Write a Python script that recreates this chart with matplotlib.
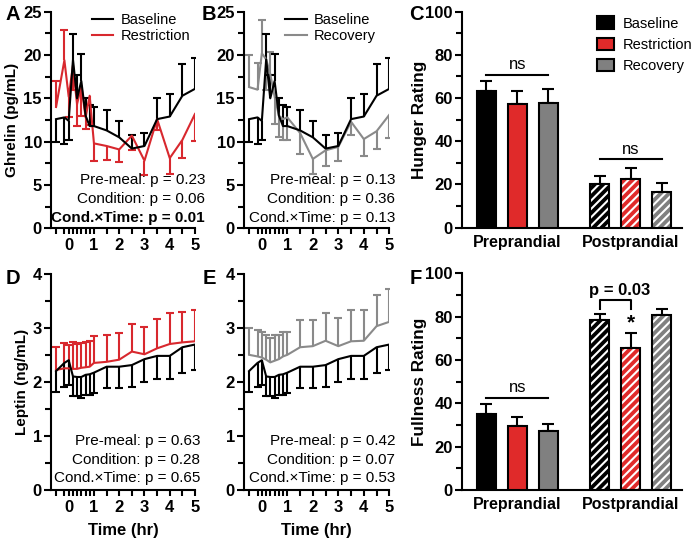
import matplotlib
matplotlib.use('Agg')
import matplotlib.pyplot as plt
import numpy as np
from matplotlib.patches import Patch
from matplotlib.lines import Line2D

plt.rcParams['font.family'] = ['Liberation Sans', 'DejaVu Sans']
plt.rcParams['hatch.linewidth'] = 1.5

# ---------------- data ----------------
time_hr = [-0.5, -0.17, 0, 0.17, 0.33, 0.5, 0.67, 0.83, 1, 1.5, 2, 2.5, 3, 3.5, 4, 4.5, 5]
major_hr = [0, 1, 2, 3, 4, 5]

ghrelin_baseline = [12.6, 12.8, 12.4, 19.5, 15.0, 17.0, 13.0, 11.8, 11.8, 11.3, 10.5, 9.2, 9.5, 12.6, 12.9, 15.3, 16.1]
ghrelin_baseline_bar_end = [10.0, 9.7, 10.2, 22.4, 17.7, 20.1, 15.0, 14.2, 14.0, 13.7, 12.4, 10.8, 11.0, 15.0, 15.5, 19.0, 19.7]
ghrelin_restriction = [14.0, 19.4, 15.2, 18.8, 14.3, 16.5, 12.8, 15.3, 9.8, 9.5, 9.1, 10.7, 7.8, 12.6, 8.1, 10.2, 13.2]
ghrelin_restriction_bar_end = [17.0, 22.9, 12.9, 16.0, 11.8, 13.0, 11.5, 11.9, 7.8, 7.9, 7.6, 9.0, 6.2, 11.3, 6.3, 8.1, 10.1]
ghrelin_recovery = [16.3, 16.0, 20.2, 19.5, 17.8, 15.2, 13.0, 12.6, 12.8, 11.0, 8.0, 9.0, 9.4, 12.3, 10.3, 11.2, 13.1]
ghrelin_recovery_bar_end = [20.0, 19.1, 24.0, 16.0, 20.4, 12.0, 10.5, 10.2, 10.2, 8.6, 6.3, 7.2, 7.8, 10.8, 8.3, 9.2, 10.4]

leptin_baseline = [2.20, 2.35, 2.40, 2.10, 2.09, 2.09, 2.13, 2.14, 2.17, 2.28, 2.28, 2.31, 2.42, 2.48, 2.48, 2.64, 2.69]
leptin_baseline_bar_end = [1.82, 1.91, 1.94, 1.73, 1.73, 1.71, 1.76, 1.76, 1.80, 1.88, 1.88, 1.91, 2.00, 2.05, 2.05, 2.17, 2.21]
leptin_restriction = [2.22, 2.25, 2.25, 2.24, 2.24, 2.26, 2.27, 2.28, 2.35, 2.37, 2.41, 2.56, 2.51, 2.62, 2.70, 2.73, 2.75]
leptin_restriction_bar_end = [2.64, 2.72, 2.69, 2.73, 2.70, 2.72, 2.73, 2.76, 2.84, 2.86, 2.91, 3.07, 3.01, 3.16, 3.28, 3.30, 3.33]
leptin_recovery = [2.50, 2.47, 2.45, 2.41, 2.36, 2.39, 2.42, 2.47, 2.50, 2.64, 2.66, 2.76, 2.66, 2.75, 2.76, 3.03, 3.11]
leptin_recovery_bar_end = [2.99, 2.96, 2.92, 2.87, 2.81, 2.86, 2.87, 2.93, 2.93, 3.14, 3.14, 3.28, 3.19, 3.32, 3.32, 3.60, 3.71]

conditions = ['Baseline', 'Restriction', 'Recovery']
meal_groups = ['Preprandial', 'Postprandial']
hunger_pre = [63.4, 57.3, 57.9]
hunger_pre_sem = [4.5, 6.1, 6.1]
hunger_post = [20.2, 22.4, 16.7]
hunger_post_sem = [3.9, 5.1, 3.8]
fullness_pre = [35.1, 29.4, 27.1]
fullness_pre_sem = [4.6, 4.4, 3.4]
fullness_post = [78.5, 65.5, 80.8]
fullness_post_sem = [2.7, 6.8, 2.7]

pvals_A = ['Pre-meal: p = 0.23', 'Condition: p = 0.06', 'Cond.\u00d7Time: p = 0.01']
pvals_B = ['Pre-meal: p = 0.13', 'Condition: p = 0.36', 'Cond.\u00d7Time: p = 0.13']
pvals_D = ['Pre-meal: p = 0.63', 'Condition: p = 0.28', 'Cond.\u00d7Time: p = 0.65']
pvals_E = ['Pre-meal: p = 0.42', 'Condition: p = 0.07', 'Cond.\u00d7Time: p = 0.53']

# ---------------- style ----------------
BLACK = '#000000'
RED_LINE = '#D8282E'
GRAY_LINE = '#8A8A8A'
RED_BAR = '#E02A2A'
GRAY_BAR = '#808080'

W, H = 697, 543
fig = plt.figure(figsize=(W / 100, H / 100), dpi=100)


def rect(l, t, r, b):
    return [l / W, 1 - b / H, (r - l) / W, (b - t) / H]


def style_axes(ax):
    for s in ['top', 'right']:
        ax.spines[s].set_visible(False)
    for s in ['left', 'bottom']:
        ax.spines[s].set_linewidth(1.5)
    ax.tick_params(which='both', width=1.5, direction='out')
    ax.tick_params(which='major', length=5, labelsize=12, pad=1.5)
    ax.tick_params(which='minor', length=4)
    for lab in ax.get_xticklabels() + ax.get_yticklabels():
        lab.set_fontweight('bold')


def line_panel(ax, series, ylim, ymajor, yminor, ylabel=None, xlabel=False):
    t = np.array(time_hr)
    for y, end, color in series:
        ax.vlines(t, y, end, colors=color, lw=1.5, zorder=2)
        ax.plot(t, end, ls='none', marker='_', ms=5.5, mew=1.5, color=color, zorder=2)
        ax.plot(t, y, color=color, lw=1.5, zorder=3)
    ax.set_xlim(-0.7, 5.0)
    ax.set_ylim(*ylim)
    ax.set_xticks(major_hr)
    ax.set_xticks([v for v in time_hr if v not in major_hr], minor=True)
    ax.set_yticks(ymajor)
    ax.set_yticks(yminor, minor=True)
    style_axes(ax)
    ax.tick_params(axis='x', which='both', length=4)
    ax.tick_params(axis='x', which='major', pad=3)
    if ylabel:
        ax.set_ylabel(ylabel, fontsize=11, fontweight='bold', labelpad=3)
    if xlabel:
        ax.set_xlabel('Time (hr)', fontsize=12, fontweight='bold', labelpad=6)


def pval_text(ax, lines, x_right, ys, bold_last=False):
    for i, (s, y) in enumerate(zip(lines, ys)):
        ax.text(x_right, y, s, transform=ax.transAxes, ha='right', va='center',
                fontsize=11, fontweight='bold' if (bold_last and i == 2) else 'normal')


def line_legend(ax, color2, label2):
    ax.legend([Line2D([], [], color=BLACK, lw=1.5), Line2D([], [], color=color2, lw=1.5)],
              ['Baseline', label2], loc='upper left', bbox_to_anchor=(0.285, 0.995),
              frameon=False, fontsize=10.5, handlelength=1.45, handletextpad=0.5,
              labelspacing=0.15, borderpad=0, borderaxespad=0)


# ---- Panel A ----
axA = fig.add_axes(rect(51, 11.7, 195, 228.3))
line_panel(axA, [(ghrelin_restriction, ghrelin_restriction_bar_end, RED_LINE),
                 (ghrelin_baseline, ghrelin_baseline_bar_end, BLACK)],
           (0, 25), [0, 5, 10, 15, 20, 25], np.arange(2.5, 25, 5), ylabel='Ghrelin (pg/mL)')
pval_text(axA, pvals_A, 1.07, [0.223, 0.135, 0.048], bold_last=True)
line_legend(axA, RED_LINE, 'Restriction')

# ---- Panel B ----
axB = fig.add_axes(rect(244, 11.7, 389.3, 228.3))
line_panel(axB, [(ghrelin_recovery, ghrelin_recovery_bar_end, GRAY_LINE),
                 (ghrelin_baseline, ghrelin_baseline_bar_end, BLACK)],
           (0, 25), [0, 5, 10, 15, 20, 25], np.arange(2.5, 25, 5))
pval_text(axB, pvals_B, 1.04, [0.223, 0.135, 0.048])
line_legend(axB, GRAY_LINE, 'Recovery')

# ---- Panel D ----
axD = fig.add_axes(rect(51, 273.7, 195, 490))
line_panel(axD, [(leptin_restriction, leptin_restriction_bar_end, RED_LINE),
                 (leptin_baseline, leptin_baseline_bar_end, BLACK)],
           (0, 4), [0, 1, 2, 3, 4], np.arange(0.5, 4, 1), ylabel='Leptin (ng/mL)', xlabel=True)
pval_text(axD, pvals_D, 1.035, [0.228, 0.139, 0.054])

# ---- Panel E ----
axE = fig.add_axes(rect(244, 273.7, 389.3, 490))
line_panel(axE, [(leptin_recovery, leptin_recovery_bar_end, GRAY_LINE),
                 (leptin_baseline, leptin_baseline_bar_end, BLACK)],
           (0, 4), [0, 1, 2, 3, 4], np.arange(0.5, 4, 1), xlabel=True)
pval_text(axE, pvals_E, 1.04, [0.228, 0.139, 0.054])

# ---- bar panels ----
pre_x = np.array([0, 1, 2])
post_x = np.array([3.66, 4.66, 5.66])
bar_colors = [BLACK, RED_BAR, GRAY_BAR]
BW = 0.61


def bar_panel(ax, pre, pre_sem, post, post_sem, ylabel):
    ax.errorbar(pre_x, pre, yerr=[np.zeros(3), pre_sem], fmt='none', ecolor='k',
                elinewidth=1.5, capsize=4, capthick=1.5, zorder=1)
    ax.errorbar(post_x, post, yerr=[np.zeros(3), post_sem], fmt='none', ecolor='k',
                elinewidth=1.5, capsize=4, capthick=1.5, zorder=1)
    ax.bar(pre_x, pre, width=BW, color=bar_colors, edgecolor='k', linewidth=1.5, zorder=3)
    ax.bar(post_x, post, width=BW, color=bar_colors, edgecolor='white', hatch='////',
           linewidth=0, zorder=2)
    ax.bar(post_x, post, width=BW, fill=False, edgecolor='k', linewidth=1.5, zorder=3)
    ax.set_xlim(-0.78, 6.31)
    ax.set_ylim(0, 100)
    ax.set_yticks([0, 20, 40, 60, 80, 100])
    ax.set_yticks(np.arange(10, 100, 20), minor=True)
    ax.set_xticks([1, 4.66])
    ax.set_xticklabels(meal_groups)
    style_axes(ax)
    ax.tick_params(axis='x', which='both', length=0, pad=5, labelsize=11.5)
    ax.set_ylabel(ylabel, fontsize=12.3, fontweight='bold')
    ax.yaxis.set_label_coords(-0.16, 0.5)


def ns_line(ax, x0, x1, y, ytext):
    ax.plot([x0, x1], [y, y], color='k', lw=1.5)
    ax.text((x0 + x1) / 2, ytext, 'ns', ha='center', va='bottom', fontsize=12)


# ---- Panel C ----
axC = fig.add_axes(rect(462, 11.7, 682, 227.7))
bar_panel(axC, hunger_pre, hunger_pre_sem, hunger_post, hunger_post_sem, 'Hunger Rating')
ns_line(axC, 0, 2, 70.8, 72.0)
ns_line(axC, 3.66, 5.66, 31.6, 32.8)
axC.legend([Patch(facecolor=c, edgecolor='k', linewidth=1.5) for c in bar_colors], conditions,
           loc='upper left', bbox_to_anchor=(0.615, 0.978), frameon=False, fontsize=10.5,
           handlelength=1.15, handleheight=0.9, handletextpad=0.6, labelspacing=0.5,
           borderpad=0, borderaxespad=0)

# ---- Panel F ----
axF = fig.add_axes(rect(462, 273.3, 682, 490))
bar_panel(axF, fullness_pre, fullness_pre_sem, fullness_post, fullness_post_sem, 'Fullness Rating')
ns_line(axF, 0, 2, 42.6, 43.8)
axF.plot([post_x[0], post_x[0], post_x[1], post_x[1]], [83.5, 87.7, 87.7, 83.5], color='k', lw=1.5)
axF.text(4.3, 88.5, 'p = 0.03', ha='center', va='bottom', fontsize=12, fontweight='bold')
axF.text(post_x[1], fullness_post[1] + fullness_post_sem[1] + 0.5, '*', ha='center',
         va='bottom', fontsize=15, fontweight='bold')

# ---- panel letters ----
for lab, x, y in [('A', 13, 14), ('B', 209, 14), ('C', 416, 14),
                  ('D', 13, 279), ('E', 209, 279), ('F', 416, 279)]:
    fig.text(x / W, 1 - y / H, lab, ha='center', va='center', fontsize=14.5, fontweight='bold')

fig.savefig('out.png', dpi=100)
